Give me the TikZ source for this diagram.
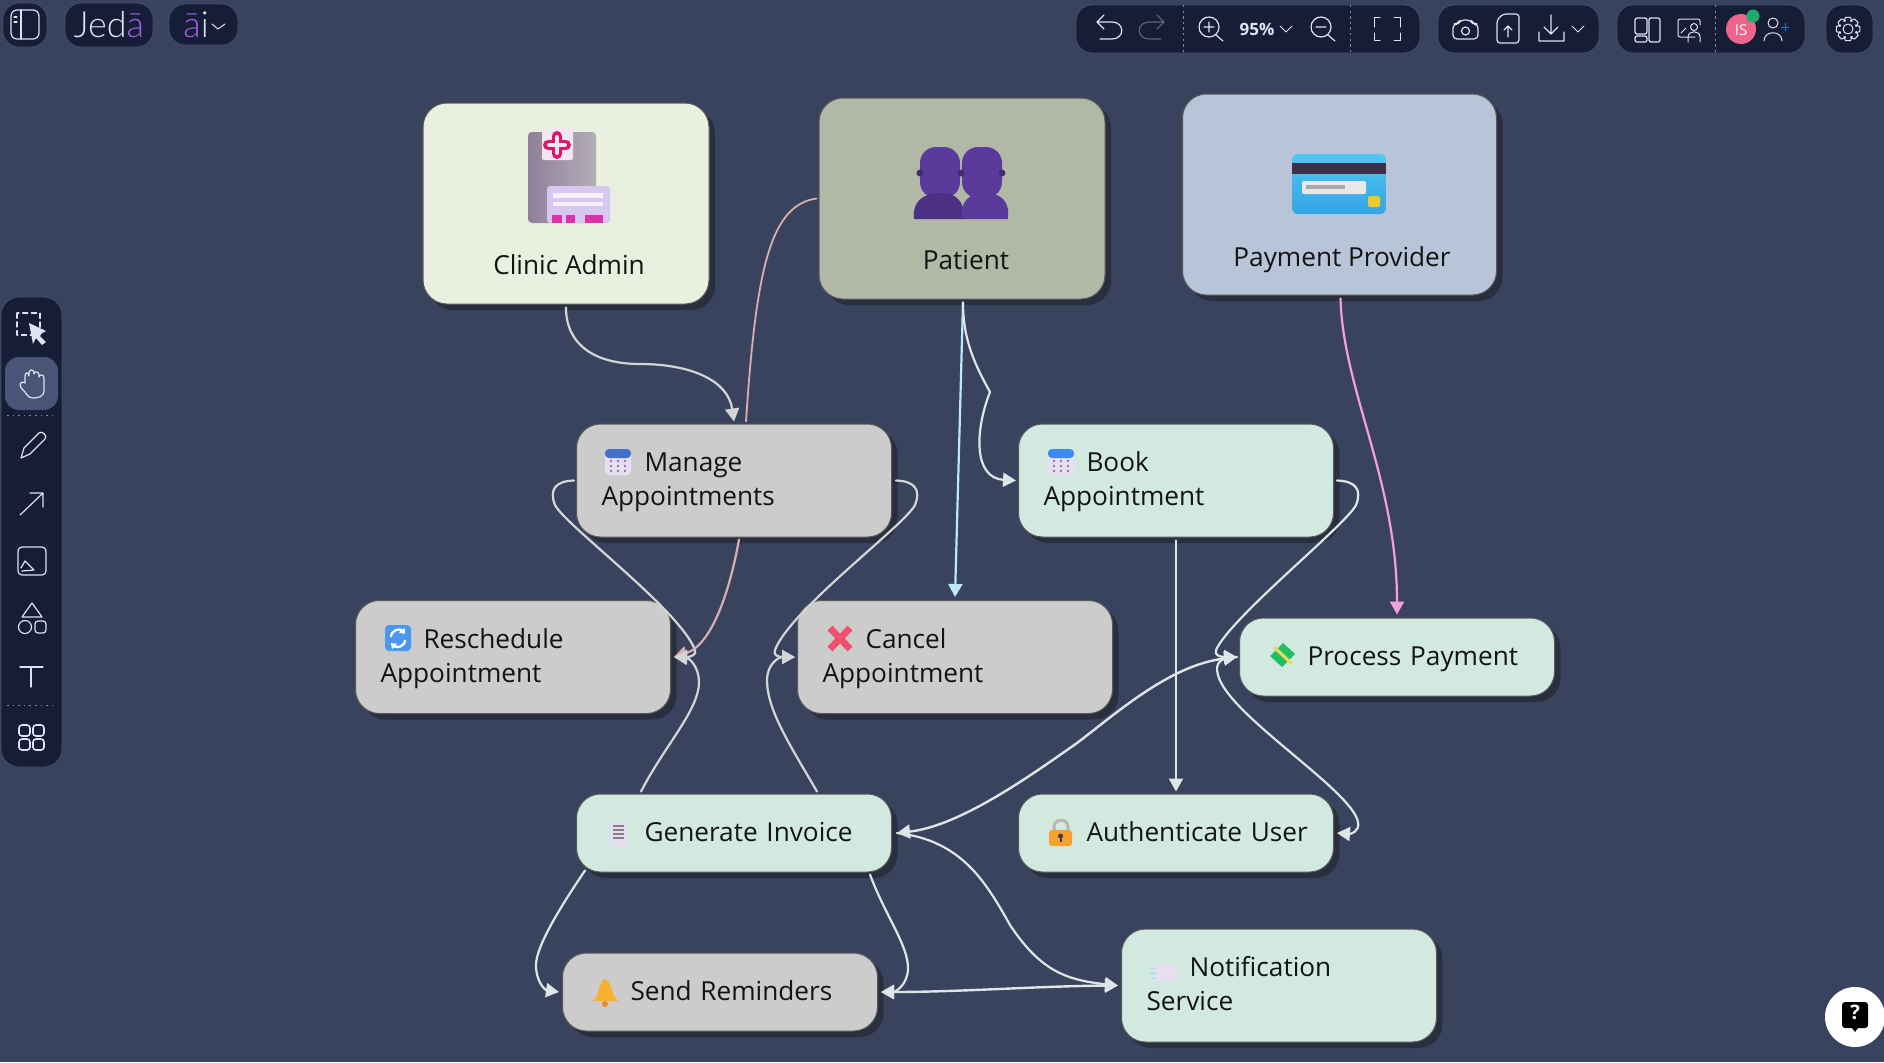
\documentclass[tikz,border=0pt]{standalone}
\usepackage{fontspec}
\setmainfont{Open Sans}
\newfontfamily\logof[UprightFont=* Light]{Lato}
\usetikzlibrary{arrows.meta,calc,shadows}
\definecolor{bgc}{HTML}{3A435E}
\definecolor{panel}{HTML}{161D36}
\definecolor{hilite}{HTML}{4A5476}
\definecolor{shc}{HTML}{2A2F3F}
\definecolor{iconc}{HTML}{DDE3F0}
\definecolor{greybox}{HTML}{CCCCCC}
\definecolor{mintbox}{HTML}{D2E9E0}
\definecolor{clinicbox}{HTML}{E9F0E0}
\definecolor{patientbox}{HTML}{B1B9A6}
\definecolor{paybox}{HTML}{B8C4D8}
\definecolor{edgew}{HTML}{DDE6E6}
\definecolor{edgeg}{HTML}{D3D6D6}
\definecolor{edgeb}{HTML}{BDE8F5}
\definecolor{edgep}{HTML}{D8AEAE}
\definecolor{edgem}{HTML}{F4A0DC}
\definecolor{purp}{HTML}{A45EE0}
\definecolor{pers}{HTML}{5A3A9A}
\definecolor{hospL}{HTML}{8F7F9A}
\definecolor{hospR}{HTML}{B4AEB8}
\definecolor{hospF}{HTML}{D8C8F0}
\definecolor{hospP}{HTML}{E030A8}
\definecolor{tagc}{HTML}{F0E8EE}
\definecolor{crossc}{HTML}{E0146A}
\definecolor{cardT}{HTML}{4FC8F0}
\definecolor{cardB}{HTML}{34A4E4}
\definecolor{stripe}{HTML}{3C304A}
\definecolor{cardW}{HTML}{E8E8EA}
\definecolor{cardG}{HTML}{A8A8A8}
\definecolor{chip}{HTML}{F0C830}
\definecolor{calbody}{HTML}{E8E0F0}
\definecolor{calA}{HTML}{4070C8}
\definecolor{calB}{HTML}{3A8AF0}
\definecolor{caldot}{HTML}{8A78A8}
\definecolor{refr}{HTML}{4A98F0}
\definecolor{xred}{HTML}{F0506E}
\definecolor{moneyg}{HTML}{20C060}
\definecolor{moneyy}{HTML}{E8D860}
\definecolor{shack}{HTML}{BEB4AA}
\definecolor{lockc}{HTML}{F8A030}
\definecolor{lilac}{HTML}{E8DEF2}
\definecolor{bellc}{HTML}{F8B030}
\definecolor{belld}{HTML}{EC8C28}
\definecolor{avatarc}{HTML}{F0648C}
\definecolor{dotg}{HTML}{1EAA6E}
\newcommand{\oneline}[1]{\rule[-3pt]{0pt}{14.6pt}\hspace*{21.5pt}\mbox{#1}}
\newcommand{\twolines}[2]{\rule{0pt}{11.9pt}\hspace*{21.5pt}\mbox{#1}\\\rule[-3.5pt]{0pt}{3.5pt}\mbox{#2}}
\tikzset{
  x=0.5pt,y=-0.5pt,
  boxbase/.style={rounded corners=12pt,draw=black!65,line width=.5pt,text=black!92,
    drop shadow={shadow xshift=3pt,shadow yshift=-3pt,fill=shc,opacity=1}},
  actor/.style={boxbase,minimum width=#1,minimum height=100.5pt,inner sep=0pt},
  flow/.style n args={2}{boxbase,fill=#1,text width=132.5pt,inner xsep=12.5pt,inner ysep=0pt,
    minimum height=#2,align=left,font=\fontsize{13.1}{17}\selectfont},
  lbl/.style={font=\fontsize{13.1}{17}\selectfont,text=black!92,anchor=base,inner sep=0pt},
  conn/.style={draw=#1,line width=1.1pt,line cap=round,-{Triangle[length=6.5pt,width=7pt]}},
  plainconn/.style={draw=#1,line width=.9pt,line cap=round},
  dbl/.style={draw=#1,line width=1.2pt,{Triangle[length=6.5pt,width=7pt]}-{Triangle[length=6.5pt,width=7pt]}},
  pane/.style={fill=panel,draw=hilite!60!bgc,line width=.4pt,rounded corners=#1},
  ico/.style={draw=iconc,line width=.6pt,line cap=round,line join=round},
  sep/.style={draw=iconc!55!panel,line width=.4pt,dash pattern=on 1.2pt off 1.6pt},
}
\begin{document}
\begin{tikzpicture}
\useasboundingbox (0,0) rectangle (1884,1062);
\fill[bgc] (0,0) rectangle (1884,1062);

%--- nodes
\node[actor=143pt,fill=clinicbox] (clinic) at (566,203.5) {};
\node[actor=143pt,fill=patientbox] (patient) at (962,198.5) {};
\node[actor=157pt,fill=paybox] (payprov) at (1339.5,194.5) {};
\node[lbl] (clinicT) at (569,274) {Clinic Admin};
\node[lbl] (patientT) at (966,269) {Patient};
\node[lbl] (payprovT) at (1342,266.5) {Payment Provider};

\node[flow={greybox}{56.5pt}] (manage) at (734,480.5) {\twolines{Manage}{Appointments}};
\node[flow={mintbox}{56.5pt}] (book) at (1176,480.5) {\twolines{Book}{Appointment}};
\node[flow={greybox}{56.5pt}] (resch) at (513,657) {\twolines{Reschedule}{Appointment}};
\node[flow={greybox}{56.5pt}] (cancel) at (955,657) {\twolines{Cancel}{Appointment}};
\node[flow={mintbox}{39pt}] (process) at (1397,657) {\oneline{Process Payment}};
\node[flow={mintbox}{39pt}] (invoice) at (734,833) {\oneline{Generate Invoice}};
\node[flow={mintbox}{39pt}] (auth) at (1176,833) {\oneline{Authenticate User}};
\node[flow={greybox}{39pt}] (remind) at (720,992) {\oneline{Send Reminders}};
\node[flow={mintbox}{56.5pt}] (notify) at (1279,985.5) {\twolines{Notification}{Service}};

%--- hubs
\coordinate (rtip) at ($(resch.east)+(3,0)$);
\coordinate (ctip) at ($(cancel.west)+(-2,0)$);
\coordinate (ptip) at ($(process.west)+(-2,0)$);
\coordinate (itip) at ($(invoice.east)+(5,0)$);
\coordinate (ntip) at ($(notify.west)+(-3,0)$);
\coordinate (stip) at ($(remind.east)+(3,0)$);

%--- connectors
\draw[conn=edgeg] ($(clinic.south)+(0,3)$) .. controls (566,345) and (595,364) .. (640,364) .. controls (690,364) and (728,380) .. ($(manage.north)+(0,-2)$);
\draw[plainconn=edgep] ($(patient.west)+(-2,0)$) .. controls (770,205) and (756,270) .. ($(manage.north)+(12,-2)$);
\draw[conn=edgeb] ($(patient.south)+(1,3)$) -- ($(cancel.north)+(0,-3)$);
\draw[conn=edgew] ($(patient.south)+(1,3)$) .. controls (963,340) and (975,365) .. (990,392) .. controls (975,430) and (973,478) .. ($(book.west)+(-2,0)$);
\draw[conn=edgem] ($(payprov.south)+(1,3)$) .. controls (1343,390) and (1397,480) .. ($(process.north)+(0,-3)$);
\draw[conn=edgew] ($(book.south)+(0,3)$) -- ($(auth.north)+(0,-2)$);

\draw[conn=edgeg] ($(manage.west)+(-2,0)$) .. controls (555,481) and (549,490) .. (555,505) .. controls (565,525) and (680,610) .. (695,650) .. controls (697,655) and (690,657) .. (rtip);
\draw[conn=edgep] ($(manage.south)+(5,2)$) .. controls (730,590) and (712,645) .. (rtip);
\draw[conn=edgeg] ($(manage.east)+(4,0)$) .. controls (915,481) and (921,490) .. (915,505) .. controls (905,525) and (790,610) .. (775,650) .. controls (773,655) and (778,657) .. (ctip);
\draw[conn=edgeg] ($(invoice.north)+(-93,-2)$) .. controls (665,745) and (699,710) .. (699,682) .. controls (699,668) and (690,658) .. (rtip);
\draw[conn=edgeg] ($(invoice.north)+(83,-2)$) .. controls (790,745) and (767,710) .. (767,680) .. controls (767,665) and (778,657) .. (ctip);
\draw[conn=edgew] ($(book.east)+(3,0)$) .. controls (1356,481) and (1362,490) .. (1356,505) .. controls (1346,525) and (1231,617) .. (1216,650) .. controls (1214,655) and (1220,657) .. (ptip);
\draw[conn=edgew] (ptip) .. controls (1222,657) and (1214,662) .. (1218,675) .. controls (1228,715) and (1352,790) .. (1358,822) .. controls (1360,832) and (1350,834) .. ($(auth.east)+(3,0)$);
\draw[dbl=edgew] (itip) .. controls (960,826) and (1030,776) .. (1077,743) .. controls (1118,712) and (1170,665) .. (ptip);
\draw[conn=edgew] (itip) .. controls (960,840) and (985,880) .. (1010,925) .. controls (1040,970) and (1065,980) .. (ntip);
\draw[conn=edgew] ($(invoice.south)+(-149,-2)$) .. controls (565,900) and (536,945) .. (536,965) .. controls (536,982) and (545,990) .. ($(remind.west)+(-3,0)$);
\draw[conn=edgew] ($(invoice.south)+(136,2)$) .. controls (885,915) and (908,945) .. (908,968) .. controls (908,985) and (895,992) .. (stip);
\draw[dbl=edgew] (stip) .. controls (960,992) and (1040,986) .. (ntip);

%--- hospital icon
\path[left color=hospL,right color=hospR,rounded corners=2pt] (528,223) -- (528,132) -- (596,132) -- (596,223) -- cycle;
\fill[rounded corners=1.5pt,hospF] (547,223) -- (547,186) -- (610,186) -- (610,223) -- cycle;
\fill[white!75!hospF] (553,193) rectangle (603,198);
\fill[white!75!hospF] (553,202) rectangle (603,206);
\fill[hospP] (552,215) rectangle (562,223);
\fill[hospP] (566,215) rectangle (575,223);
\fill[hospP] (585,215) rectangle (603,223);
\fill[rounded corners=1pt,tagc] (542,128) rectangle (573,160);
\draw[crossc,line width=5pt,line cap=round] (548,145) -- (566,145) (557,136) -- (557,154);
\draw[tagc,line width=2pt,line cap=round] (549,145) -- (565,145) (557,137) -- (557,153);

%--- people icon
\foreach \cx in {940,982}{
  \fill[pers,rounded corners=8pt] (\cx-20,198) -- (\cx-20,147) -- (\cx+20,147) -- (\cx+20,198) -- cycle;
}
\fill[pers!85!black] (914,219) .. controls (912,200) and (925,193) .. (940,193) .. controls (955,193) and (965,200) .. (964,219) -- cycle;
\fill[pers] (962,219) .. controls (960,200) and (970,193) .. (985,193) .. controls (1000,193) and (1010,200) .. (1008,219) -- cycle;
\fill[pers!75!black] (920,173) circle (3.5) (961,173) circle (3.5) (1002,173) circle (3.5);

%--- card icon
\path[rounded corners=3pt,top color=cardT,bottom color=cardB] (1292,154) rectangle (1386,214);
\fill[stripe] (1292,163) rectangle (1386,174);
\fill[rounded corners=1pt,cardW] (1302,181) rectangle (1366,194);
\fill[cardG] (1306,185) rectangle (1345,189);
\fill[rounded corners=1pt,chip] (1368,196) rectangle (1380,207);

%--- calendars
\foreach \cx/\tc in {605/calA,1048/calB}{
  \fill[rounded corners=2pt,calbody] (\cx,453) rectangle (\cx+26,475);
  \fill[rounded corners=2pt,\tc] (\cx,449) rectangle (\cx+26,458);
  \foreach \dx in {6,13,20}\foreach \dy in {461,466,471}
    \fill[caldot] (\cx+\dx,\dy) circle (1.3);
}
%--- refresh
\fill[rounded corners=2pt,refr] (385,625) rectangle (411,651);
\draw[white,line width=1.1pt,-{Triangle[length=2.5pt,width=3.5pt]}] (391,637) .. controls (391,630) and (400,628) .. (405,634);
\draw[white,line width=1.1pt,-{Triangle[length=2.5pt,width=3.5pt]}] (405,640) .. controls (405,647) and (396,648) .. (391,643);
%--- cross mark
\draw[xred,line width=3.4pt] (830,628) -- (850,649) (850,628) -- (830,649);
%--- money
\fill[moneyg] (1283,643) -- (1295,654) -- (1282,667) -- (1270,656) -- cycle;
\draw[moneyy,line width=1.6pt] (1274,647) -- (1292,664);
%--- lock
\draw[shack,line width=1.5pt] (1054,832) -- (1054,827) .. controls (1054,818) and (1068,818) .. (1068,827) -- (1068,832);
\fill[rounded corners=1.5pt,lockc] (1049,830) rectangle (1072,846);
\fill[black!75] (1060.5,836) circle (2.5);
\fill[black!75] (1059.5,836) rectangle (1061.5,842);
%--- receipt
\fill[rounded corners=1pt,lilac] (610,822) rectangle (627,846);
\foreach \dy in {826,830,834,838}\draw[gray,line width=.6pt] (613,\dy) -- (624,\dy);
%--- bell
\fill[bellc] (593,1001) .. controls (600,995) and (598,982) .. (605,979) .. controls (612,982) and (611,995) .. (618,1001) -- cycle;
\fill[belld] (605,1004) circle (3);
%--- notebook
\fill[rounded corners=1pt,lilac] (1155,964) rectangle (1176,981);
\foreach \dy in {968,973,978}\draw[cyan!40!white,line width=.5pt] (1150,\dy) -- (1156,\dy);

%--- top-left tools
\path[pane=8pt] (3,3) rectangle (47,47);
\draw[ico,rounded corners=3pt] (11,10) rectangle (39,39);
\draw[ico] (21,10) -- (21,39) (14,17) -- (17,17) (14,22) -- (17,22);
\path[pane=8pt] (65,3) rectangle (153,47);
\node[font=\logof\fontsize{18}{18}\selectfont,text=iconc,inner sep=0pt] (jeda) at (109,25) {Jed{\color{purp}ā}};
\path[pane=8pt] (169,4) rectangle (238,45);
\node[font=\logof\fontsize{18}{18}\selectfont,text=iconc,inner sep=0pt,anchor=west] (aimark) at (183,25) {{\color{purp}ā}i};
\draw[ico,line width=.5pt] (212,24) -- (218,29) -- (225,24);

%--- top-right tools
\path[pane=8pt] (1076,5) rectangle (1420,53);
\path[pane=8pt] (1438,5) rectangle (1599,53);
\path[pane=8pt] (1617,5) rectangle (1805,53);
\path[pane=8pt] (1826,5) rectangle (1873,53);
\draw[sep] (1183,5) -- (1183,53) (1350,5) -- (1350,53) (1715,5) -- (1715,53);
\draw[ico] (1104,15) -- (1097,22) -- (1104,29) (1097,22) -- (1112,22) .. controls (1125,22) and (1125,39) .. (1112,39) -- (1100,39);
\draw[ico,draw=iconc!35!panel] (1157,15) -- (1164,22) -- (1157,29) (1164,22) -- (1149,22) .. controls (1136,22) and (1136,39) .. (1149,39) -- (1161,39);
\draw[ico] (1209,27) circle (10) (1216,35) -- (1223,41) (1204,27) -- (1214,27) (1209,22) -- (1209,32);
\node[font=\bfseries\fontsize{8.5}{10}\selectfont,text=iconc,inner sep=0pt] (zoomtxt) at (1257,29) {95\%};
\draw[ico,line width=.5pt] (1280,26) -- (1286,32) -- (1292,26);
\draw[ico] (1321,27) circle (10) (1328,35) -- (1335,41) (1316,27) -- (1326,27);
\draw[ico,line width=.5pt] (1380,17) -- (1374,17) -- (1374,27) (1394,17) -- (1400,17) -- (1400,27) (1380,40) -- (1374,40) -- (1374,33) (1394,40) -- (1400,40) -- (1400,33);
\draw[ico,rounded corners=2pt] (1453,39) -- (1453,24) -- (1458,24) -- (1460,20) -- (1471,20) -- (1473,24) -- (1478,24) -- (1478,39) -- cycle;
\draw[ico] (1465.5,31) circle (4);
\draw[ico,rounded corners=1.5pt] (1497,43) -- (1497,20) -- (1503,14) -- (1519,14) -- (1519,43) -- cycle;
\draw[ico] (1508,37) -- (1508,26) (1504,30) -- (1508,26) -- (1512,30);
\draw[ico] (1551,15) -- (1551,34) (1544,27) -- (1551,34) -- (1558,27) (1539,32) -- (1539,41) -- (1564,41) -- (1564,32);
\draw[ico,line width=.5pt] (1572,26) -- (1578,32) -- (1584,26);
\draw[ico,rounded corners=1pt] (1635,18) rectangle (1647,34) (1635,36) rectangle (1647,42) (1649,18) rectangle (1660,42);
\draw[ico,line width=.5pt,rounded corners=1pt] (1695,37) -- (1678,37) -- (1678,19) -- (1700,19) -- (1700,25);
\draw[ico,line width=.5pt] (1694,27) circle (3.5) (1688,42) -- (1688,37) .. controls (1688,30) and (1700,30) .. (1700,37) -- (1700,42) (1681,33) -- (1686,28);
\fill[avatarc] (1741,29) circle (15);
\node[font=\fontsize{7.5}{9}\selectfont,text=white,inner sep=0pt] (avatar) at (1741,30) {IS};
\fill[dotg] (1753,16) circle (6.5);
\draw[ico,line width=.5pt] (1773,23) circle (5) (1764,41) .. controls (1764,30) and (1782,30) .. (1782,41);
\draw[draw=cyan!60!blue,line width=.5pt] (1781,27) -- (1789,27) (1785,23) -- (1785,31);
\draw[ico,line width=.5pt] (1848,29) circle (5);
\foreach \a in {0,45,...,315}{
  \draw[ico,line width=.5pt] ($(1848,29)+(\a-28:8.5)$) -- ($(1848,29)+(\a-12:12)$) -- ($(1848,29)+(\a+12:12)$) -- ($(1848,29)+(\a+28:8.5)$) -- ($(1848,29)+(\a+45-28:8.5)$);
}

%--- left tool rail
\path[pane=9pt] (1,297) rectangle (62,767);
\fill[hilite,rounded corners=7pt] (5,357) rectangle (58,410);
\draw[sep,dash pattern=on .8pt off 2pt] (7,415) -- (56,415) (7,705) -- (56,705);
\draw[ico,dash pattern=on 2.6pt off 1.8pt] (17,313) rectangle (40,335);
\fill[iconc] (29,323) -- (46,331) -- (39,335) -- (46,342) -- (42,345) -- (36,338) -- (33,344) -- cycle;
\draw[ico] (25,392) .. controls (18,386) and (19,380) .. (25,383) -- (25,376) .. controls (25,372) and (29,372) .. (29,376) -- (29,373) .. controls (29,369) and (34,369) .. (34,373) -- (34,374) .. controls (34,371) and (39,371) .. (39,375) -- (39,377) .. controls (39,374) and (44,374) .. (44,378) -- (44,390) .. controls (44,397) and (38,398) .. (33,398) .. controls (29,398) and (27,395) .. (25,392);
\draw[ico] (24,448) -- (39,433) .. controls (42,430) and (48,436) .. (45,439) -- (30,454) -- (21,458) -- cycle;
\draw[ico] (20,515) -- (43,493) (30,493) -- (43,493) -- (43,507);
\draw[ico,rounded corners=2pt] (18,547) rectangle (46,575);
\draw[ico] (21,568) -- (25,561) -- (34,570) -- (22,571) (25,561) -- (21,568);
\draw[ico] (32,603) -- (42,617) -- (22,617) -- cycle (25,627) circle (6.5);
\draw[ico,rounded corners=1.5pt] (35,621) rectangle (46,633);
\draw[ico] (20,667) -- (43,667) (31,667) -- (31,687);
\draw[ico,rounded corners=1.5pt,line width=.8pt] (19,725) rectangle (30,736) (33,725) rectangle (44,736) (19,739) rectangle (30,750) (33,739) rectangle (44,750);

%--- help bubble
\fill[white] (1855,1017) circle (30);
\fill[black,rounded corners=1.5pt] (1842,1002) rectangle (1868,1028);
\fill[black] (1852,1028) -- (1855,1032) -- (1858,1028) -- cycle;
\node[font=\bfseries\fontsize{10}{10}\selectfont,text=white,inner sep=0pt] (helpq) at (1855,1012) {?};
\end{tikzpicture}
\end{document}
